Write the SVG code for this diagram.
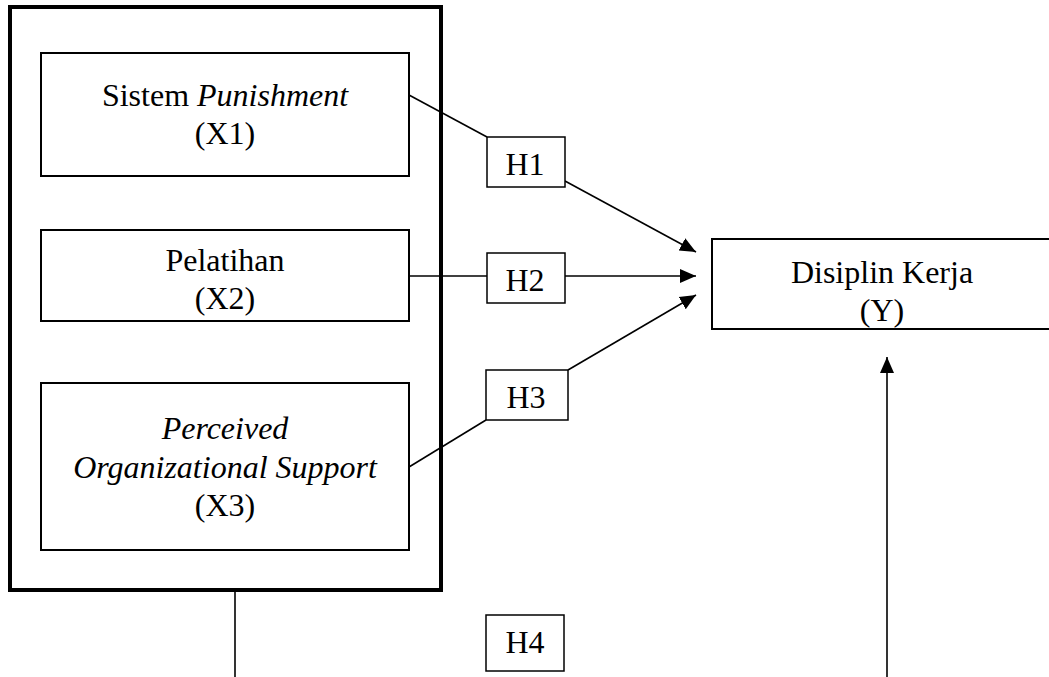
<svg xmlns="http://www.w3.org/2000/svg" width="1049" height="677" viewBox="0 0 1049 677">
<defs>
<marker id="arr" markerWidth="16" markerHeight="16" refX="16" refY="8" orient="auto" markerUnits="userSpaceOnUse"><path d="M0,1 L16,8 L0,15 Z" fill="#000"/></marker>
<style>
.box{fill:#fff;stroke:#000;stroke-width:2}
.hbox{fill:#fff;stroke:#000;stroke-width:1.5}
.t{font-family:"Liberation Serif","Times New Roman",serif;font-size:32px;fill:#000;text-anchor:middle}
.ln{stroke:#000;stroke-width:1.6;fill:none}
</style>
</defs>
<g id="outer"><rect x="10" y="7" width="431" height="583" fill="none" stroke="#000" stroke-width="4"/></g>
<g id="connectors">
<line class="ln" x1="409" y1="95" x2="487" y2="137"/>
<line class="ln" x1="565" y1="181" x2="696" y2="252" marker-end="url(#arr)"/>
<line class="ln" x1="409" y1="276" x2="487" y2="276"/>
<line class="ln" x1="565" y1="276" x2="696" y2="276" marker-end="url(#arr)"/>
<line class="ln" x1="409" y1="467" x2="486" y2="420"/>
<line class="ln" x1="568" y1="370" x2="696" y2="295" marker-end="url(#arr)"/>
<line class="ln" x1="235" y1="590" x2="235" y2="677"/>
<line class="ln" x1="887" y1="677" x2="887" y2="357" marker-end="url(#arr)"/>
</g>
<g id="x1"><rect class="box" x="41" y="53" width="368" height="123"/><text class="t" x="225" y="106">Sistem <tspan font-style="italic">Punishment</tspan></text><text class="t" x="225" y="144">(X1)</text></g>
<g id="x2"><rect class="box" x="41" y="230" width="368" height="91"/><text class="t" x="225" y="271">Pelatihan</text><text class="t" x="225" y="309">(X2)</text></g>
<g id="x3"><rect class="box" x="41" y="383" width="368" height="167"/><text class="t" x="225" y="439" font-style="italic">Perceived</text><text class="t" x="225" y="478" font-style="italic">Organizational Support</text><text class="t" x="225" y="516">(X3)</text></g>
<g id="y"><rect class="box" x="712" y="239" width="345" height="90"/><text class="t" x="882" y="283">Disiplin Kerja</text><text class="t" x="882" y="321">(Y)</text></g>
<g id="h1"><rect class="hbox" x="487" y="137" width="78" height="50"/><text class="t" x="525" y="175">H1</text></g>
<g id="h2"><rect class="hbox" x="487" y="253" width="78" height="50"/><text class="t" x="525" y="291">H2</text></g>
<g id="h3"><rect class="hbox" x="486" y="370" width="82" height="50"/><text class="t" x="526" y="408">H3</text></g>
<g id="h4"><rect class="hbox" x="486" y="615" width="78" height="56"/><text class="t" x="525" y="653">H4</text></g>
</svg>
